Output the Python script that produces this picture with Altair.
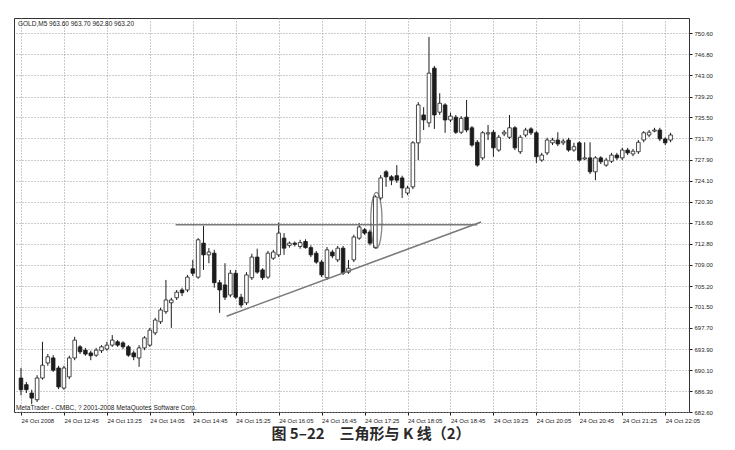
import altair as alt
import pandas as pd

# ---- data (GOLD M5, 24 Oct 2008, bars from 12:05) ----
opens = [688.7, 687.5, 686.0, 684.8, 688.7, 691.4, 692.3, 690.5, 686.9, 688.9,
         692.3, 694.3, 693.7, 693.2, 692.8, 693.6, 693.9, 694.6, 695.2, 695.0,
         694.3, 693.2, 692.3, 694.1, 694.6, 696.8, 698.8, 700.6, 702.2, 703.1,
         704.5, 704.5, 708.3, 706.8, 712.9, 710.8, 711.1, 705.8, 705.4, 703.6,
         707.5, 703.2, 702.2, 706.7, 710.4, 708.1, 706.8, 710.2, 710.8, 713.8,
         712.5, 712.9, 712.3, 713.2, 712.1, 711.1, 709.5, 706.7, 711.3, 709.9,
         712.0, 707.7, 709.9, 713.8, 715.3, 714.9, 712.1, 721.0, 725.7, 724.8,
         725.0, 724.6, 721.9, 723.0, 730.9, 735.9, 734.5, 744.3, 736.4, 737.7,
         735.0, 735.5, 732.8, 735.5, 733.6, 731.0, 728.2, 732.5, 732.8, 729.6,
         732.5, 731.9, 733.6, 729.3, 732.3, 733.4, 732.7, 727.8, 729.1, 730.9,
         731.4, 730.9, 731.4, 729.6, 730.9, 728.0, 728.2, 725.7, 728.2, 726.9,
         727.6, 728.7, 728.2, 729.6, 728.9, 729.3, 731.4, 732.3, 733.0, 733.2,
         731.6, 731.4]
highs = [690.5, 688.0, 686.6, 689.2, 695.2, 693.0, 692.8, 690.9, 690.9, 692.7,
         696.1, 694.6, 694.1, 693.6, 694.1, 694.6, 695.2, 696.4, 695.5, 695.3,
         694.6, 693.6, 694.6, 696.2, 697.7, 699.5, 701.3, 706.3, 703.1, 704.5,
         704.9, 707.2, 709.9, 713.8, 716.0, 712.0, 711.7, 706.3, 709.3, 708.1,
         708.1, 703.8, 707.7, 711.0, 711.9, 708.4, 711.5, 711.7, 716.6, 714.7,
         713.2, 713.2, 713.5, 713.6, 712.5, 711.5, 709.9, 712.2, 711.7, 712.4,
         712.4, 709.9, 714.4, 716.5, 715.6, 715.3, 721.5, 725.1, 726.0, 725.1,
         726.9, 725.0, 723.2, 731.2, 738.2, 737.3, 749.9, 744.7, 739.8, 738.0,
         736.3, 735.9, 735.7, 738.6, 733.9, 731.4, 733.0, 734.1, 733.2, 732.3,
         733.2, 735.9, 733.9, 732.3, 733.6, 733.7, 733.0, 729.1, 731.8, 731.8,
         732.8, 731.6, 731.8, 730.9, 731.2, 731.0, 731.0, 728.5, 728.5, 728.2,
         729.1, 729.1, 730.0, 730.0, 729.8, 731.4, 733.0, 733.2, 733.6, 733.6,
         731.9, 732.7]
lows = [685.6, 686.0, 684.0, 684.4, 688.4, 690.9, 689.8, 686.7, 686.6, 688.5,
        691.9, 693.0, 692.7, 691.9, 692.5, 693.2, 693.6, 694.3, 694.3, 693.9,
        692.5, 691.9, 690.7, 693.7, 694.3, 696.4, 698.4, 700.2, 697.7, 702.7,
        703.4, 704.1, 707.0, 706.5, 708.1, 709.3, 704.9, 700.4, 702.7, 703.2,
        702.9, 701.3, 701.8, 706.3, 707.4, 706.3, 706.5, 709.9, 710.4, 710.8,
        712.1, 712.3, 711.9, 711.9, 710.4, 709.2, 706.8, 706.3, 710.2, 709.5,
        707.2, 707.4, 709.5, 713.5, 714.4, 712.5, 711.9, 720.6, 723.0, 723.3,
        723.7, 721.0, 721.5, 722.6, 727.8, 733.2, 733.7, 733.4, 735.9, 732.7,
        734.6, 732.5, 732.5, 732.8, 730.2, 726.6, 727.8, 731.4, 728.4, 729.3,
        732.1, 731.6, 729.6, 728.9, 731.9, 732.3, 727.3, 727.5, 728.7, 730.5,
        730.3, 730.5, 729.3, 729.3, 727.5, 727.8, 725.3, 724.2, 727.1, 726.6,
        727.3, 727.8, 727.8, 728.7, 728.5, 728.9, 731.0, 731.9, 732.8, 731.2,
        730.5, 731.0]
closes = [686.6, 686.6, 685.1, 688.7, 691.0, 692.5, 690.1, 687.1, 690.5, 692.3,
          695.5, 693.4, 693.0, 692.7, 693.7, 694.3, 694.6, 695.5, 694.6, 694.3,
          692.8, 692.5, 694.1, 695.9, 697.3, 699.1, 700.9, 702.7, 702.7, 704.1,
          704.0, 706.8, 707.5, 713.5, 710.8, 711.3, 705.8, 704.5, 703.2, 707.5,
          703.2, 701.8, 707.2, 710.4, 707.7, 706.7, 711.1, 711.3, 714.7, 712.0,
          712.9, 712.7, 713.0, 712.1, 710.8, 709.5, 707.2, 711.7, 710.6, 712.0,
          707.5, 708.4, 714.0, 715.8, 714.7, 712.9, 721.2, 724.6, 724.8, 724.2,
          724.2, 722.8, 722.8, 730.9, 737.7, 735.0, 743.4, 735.9, 738.0, 735.0,
          735.7, 732.8, 735.3, 733.2, 730.5, 726.9, 732.7, 732.7, 730.0, 731.9,
          732.8, 733.6, 730.0, 731.9, 733.2, 732.7, 728.4, 728.7, 731.4, 731.4,
          730.7, 731.2, 729.6, 730.2, 727.8, 728.2, 725.7, 728.2, 727.5, 727.8,
          728.7, 728.2, 729.6, 729.1, 729.4, 731.0, 732.7, 732.8, 733.2, 731.6,
          730.9, 732.3]

price_ticks = [750.6, 746.8, 743.0, 739.2, 735.5, 731.7, 727.9, 724.1, 720.3, 716.6,
               712.8, 709.0, 705.2, 701.5, 697.7, 693.9, 690.1, 686.3, 682.6]
time_labels = ["24 Oct 2008", "24 Oct 12:45", "24 Oct 13:25", "24 Oct 14:05",
               "24 Oct 14:45", "24 Oct 15:25", "24 Oct 16:05", "24 Oct 16:45",
               "24 Oct 17:25", "24 Oct 18:05", "24 Oct 18:45", "24 Oct 19:25",
               "24 Oct 20:05", "24 Oct 20:45", "24 Oct 21:25", "24 Oct 22:05"]
label_step = 8  # one label every 8 five-minute bars

# trend lines of the triangle (bar index, price)
upper_x = [28.8, 85.0]
upper_y = [716.2, 716.2]
lower_x = [38.3, 85.7]
lower_y = [699.8, 716.7]
# highlighted breakout candle
mark_bar_index = [66.2]
mark_price = [717.0]

header_text = "GOLD,M5  963.60 963.70 962.80 963.20"
footer_text = "MetaTrader - CMBC, ? 2001-2008 MetaQuotes Software Corp."
caption_text = "图 5–22\u3000三角形与 K 线（2）"

# ---- tables ----
df = pd.DataFrame({
    "i": list(range(len(opens))),
    "open": opens, "high": highs, "low": lows, "close": closes,
})
df["up"] = df["close"] >= df["open"]

ink = "#1c1c1c"
grid_col = "#9a9a9a"
font = "Liberation Sans"

label_js = "[" + ",".join("'" + s + "'" for s in time_labels) + "]"
x_scale = alt.Scale(domain=[-0.37, 123.5], nice=False, zero=False)
x_axis = alt.Axis(
    values=[k * label_step for k in range(len(time_labels))],
    labelExpr=label_js + "[round(datum.value/8)]",
    labelAlign="left", labelFontSize=6, labelFont=font, labelColor=ink,
    labelPadding=2, labelFlush=False, labelOverlap=False, labelBound=False,
    tickSize=3, tickColor=ink, domain=False, title=None,
    grid=True, gridDash=[1, 2], gridColor=grid_col, gridWidth=1,
)
y_scale = alt.Scale(domain=[682.6, 753.3], nice=False, zero=False)
y_axis = alt.Axis(
    orient="right", values=price_ticks, format=".2f",
    labelFontSize=6, labelFont=font, labelColor=ink, labelPadding=2,
    tickSize=3, tickColor=ink, domain=False, title=None,
    grid=True, gridDash=[1, 2], gridColor=grid_col, gridWidth=1,
    labelOverlap=False, labelFlush=False, labelBound=False,
)


def X(field):
    return alt.X(field, scale=x_scale, axis=x_axis)


def Y(field):
    return alt.Y(field, scale=y_scale, axis=y_axis)


base = alt.Chart(df)

wicks = base.mark_rule(color=ink, strokeWidth=1).encode(
    x=X("i:Q"), y=Y("low:Q"), y2="high:Q",
)

bodies = base.mark_bar(size=3.6, stroke=ink, strokeWidth=0.8).encode(
    x=X("i:Q"), y=Y("open:Q"), y2="close:Q",
    fill=alt.condition("datum.up", alt.value("white"), alt.value(ink)),
)

upper_df = pd.DataFrame({"i": upper_x, "p": upper_y})
lower_df = pd.DataFrame({"i": lower_x, "p": lower_y})
upper_line = alt.Chart(upper_df).mark_line(color="#7a7a7a", strokeWidth=1.6).encode(
    x=X("i:Q"), y=Y("p:Q"))
lower_line = alt.Chart(lower_df).mark_line(color="#7a7a7a", strokeWidth=1.6).encode(
    x=X("i:Q"), y=Y("p:Q"))

ellipse_path = ("M0,-1 C0.11,-1 0.2,-0.552 0.2,0 C0.2,0.552 0.11,1 0,1 "
                "C-0.11,1 -0.2,0.552 -0.2,0 C-0.2,-0.552 -0.11,-1 0,-1 Z")
ring = alt.Chart(pd.DataFrame({"i": mark_bar_index, "p": mark_price})).mark_point(
    shape=ellipse_path, size=3136, filled=False, color="#555", strokeWidth=1.3
).encode(x=X("i:Q"), y=Y("p:Q"))

one = pd.DataFrame({"t": [0]})
header = alt.Chart(one).mark_text(
    text=header_text, align="left", baseline="middle", fontSize=6.5, font=font, color=ink
).encode(x=alt.value(4), y=alt.value(6))
footer = alt.Chart(one).mark_text(
    text=footer_text, align="left", baseline="middle", fontSize=6.5, font=font, color=ink
).encode(x=alt.value(2), y=alt.value(390))
caption = alt.Chart(one).mark_text(
    text=caption_text, align="center", baseline="middle", fontSize=15,
    font="Noto Sans CJK SC", fontWeight="bold", color="#2a2a2a"
).encode(x=alt.value(357), y=alt.value(416))

chart = alt.layer(
    wicks, bodies, upper_line, lower_line, ring, header, footer, caption
).properties(
    width=675, height=394,
    autosize=alt.AutoSizeParams(type="none"),
    padding={"left": 6, "top": 10, "right": 38, "bottom": 30},
    background="white",
).configure_view(
    stroke="#333", strokeWidth=1
).configure_axis(
    labelOverlap=False
)

chart.save("out.html", embed_options={"renderer": "svg", "actions": False})
